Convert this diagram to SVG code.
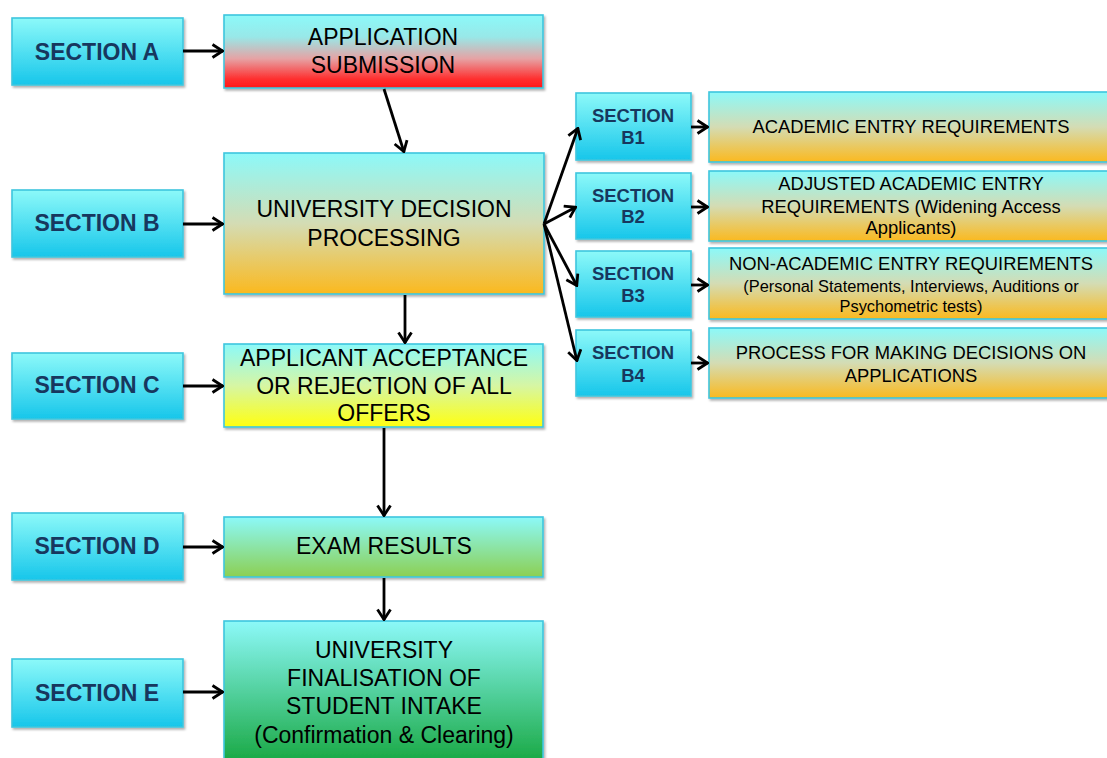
<svg xmlns="http://www.w3.org/2000/svg" width="1107" height="758" viewBox="0 0 1107 758">
<defs>
<style>
.box{stroke:#3ec6de;stroke-width:1.6;filter:url(#sh)}
.sec{font-family:"Liberation Sans",Arial,sans-serif;font-weight:bold;font-size:23px;fill:#17375e;text-anchor:middle}
.secb{font-family:"Liberation Sans",Arial,sans-serif;font-weight:bold;font-size:18.5px;fill:#17375e;text-anchor:middle}
.t{font-family:"Liberation Sans",Arial,sans-serif;font-size:23px;fill:#000;text-anchor:middle}
.ts{font-family:"Liberation Sans",Arial,sans-serif;font-size:18.4px;fill:#000;text-anchor:middle}
.tx{font-family:"Liberation Sans",Arial,sans-serif;font-size:16.4px;fill:#000;text-anchor:middle}
.c line{stroke:#000;stroke-width:2.8;marker-end:url(#ah)}
</style>
<filter id="sh" x="-5%" y="-5%" width="115%" height="120%">
<feDropShadow dx="1.5" dy="2" stdDeviation="1.2" flood-color="#000" flood-opacity="0.3"/>
</filter>
<marker id="ah" viewBox="0 0 13 16" refX="12" refY="8" markerWidth="13" markerHeight="16" markerUnits="userSpaceOnUse" orient="auto">
<path d="M1.5,1.5 L11.5,8 L1.5,14.5" fill="none" stroke="#000" stroke-width="2.8" stroke-linejoin="miter"/>
</marker>
<linearGradient id="gCy" x1="0" y1="0" x2="0" y2="1">
<stop offset="0" stop-color="#8cf9f9"/><stop offset="1" stop-color="#17c6ea"/>
</linearGradient>
<linearGradient id="gRed" x1="0" y1="0" x2="0" y2="1">
<stop offset="0" stop-color="#8cf9f9"/><stop offset="0.3" stop-color="#98e8e8"/><stop offset="0.6" stop-color="#e6a2a4"/><stop offset="0.88" stop-color="#ff2e2e"/><stop offset="1" stop-color="#ff1818"/>
</linearGradient>
<linearGradient id="gOr" x1="0" y1="0" x2="0" y2="1">
<stop offset="0" stop-color="#8cf9f9"/><stop offset="0.5" stop-color="#d4dcb4"/><stop offset="1" stop-color="#fbb91e"/>
</linearGradient>
<linearGradient id="gYe" x1="0" y1="0" x2="0" y2="1">
<stop offset="0" stop-color="#8cf9f9"/><stop offset="0.5" stop-color="#d6f6a4"/><stop offset="1" stop-color="#ffff10"/>
</linearGradient>
<linearGradient id="gGl" x1="0" y1="0" x2="0" y2="1">
<stop offset="0" stop-color="#8cf9f9"/><stop offset="1" stop-color="#8ccf52"/>
</linearGradient>
<linearGradient id="gGd" x1="0" y1="0" x2="0" y2="1">
<stop offset="0" stop-color="#8cf9f9"/><stop offset="1" stop-color="#16a63e"/>
</linearGradient>
</defs>
<rect width="1107" height="758" fill="#fff"/>

<g id="secA"><rect class="box" x="12" y="18" width="171" height="67" fill="url(#gCy)"/><text class="sec" x="97" y="60">SECTION A</text></g>
<g id="secB"><rect class="box" x="12" y="190" width="171" height="67" fill="url(#gCy)"/><text class="sec" x="97" y="231">SECTION B</text></g>
<g id="secC"><rect class="box" x="12" y="353" width="171" height="66" fill="url(#gCy)"/><text class="sec" x="97" y="393">SECTION C</text></g>
<g id="secD"><rect class="box" x="12" y="513" width="171" height="67" fill="url(#gCy)"/><text class="sec" x="97" y="554">SECTION D</text></g>
<g id="secE"><rect class="box" x="12" y="659" width="171" height="68" fill="url(#gCy)"/><text class="sec" x="97" y="701">SECTION E</text></g>

<g id="appSub"><rect class="box" x="224" y="15" width="319" height="73" fill="url(#gRed)"/>
<text class="t" x="383" y="45">APPLICATION</text><text class="t" x="383" y="73">SUBMISSION</text></g>
<g id="uniDec"><rect class="box" x="224" y="153" width="320" height="141" fill="url(#gOr)"/>
<text class="t" x="384" y="217">UNIVERSITY  DECISION</text><text class="t" x="384" y="246">PROCESSING</text></g>
<g id="accept"><rect class="box" x="224" y="344" width="319" height="83" fill="url(#gYe)"/>
<text class="t" x="384" y="366">APPLICANT ACCEPTANCE</text><text class="t" x="384" y="394">OR REJECTION OF ALL</text><text class="t" x="384" y="421">OFFERS</text></g>
<g id="exam"><rect class="box" x="224" y="517" width="319" height="60" fill="url(#gGl)"/>
<text class="t" x="384" y="554">EXAM  RESULTS</text></g>
<g id="final"><rect class="box" x="224" y="621" width="319" height="145" fill="url(#gGd)"/>
<text class="t" x="384" y="658">UNIVERSITY</text><text class="t" x="384" y="686">FINALISATION  OF</text><text class="t" x="384" y="714">STUDENT INTAKE</text><text class="t" x="384" y="743">(Confirmation &amp; Clearing)</text></g>

<g id="secB1"><rect class="box" x="576" y="93" width="115" height="67" fill="url(#gCy)"/><text class="secb" x="633" y="122">SECTION</text><text class="secb" x="633" y="144">B1</text></g>
<g id="secB2"><rect class="box" x="576" y="173" width="115" height="66" fill="url(#gCy)"/><text class="secb" x="633" y="202">SECTION</text><text class="secb" x="633" y="223">B2</text></g>
<g id="secB3"><rect class="box" x="576" y="251" width="115" height="66" fill="url(#gCy)"/><text class="secb" x="633" y="280">SECTION</text><text class="secb" x="633" y="302">B3</text></g>
<g id="secB4"><rect class="box" x="576" y="330" width="115" height="66" fill="url(#gCy)"/><text class="secb" x="633" y="359">SECTION</text><text class="secb" x="633" y="382">B4</text></g>

<g id="reqB1"><rect class="box" x="709" y="92" width="402" height="70" fill="url(#gOr)"/><text class="ts" x="911" y="133">ACADEMIC ENTRY REQUIREMENTS</text></g>
<g id="reqB2"><rect class="box" x="709" y="171" width="402" height="70" fill="url(#gOr)"/>
<text class="ts" x="911" y="190">ADJUSTED ACADEMIC ENTRY</text><text class="ts" x="911" y="213">REQUIREMENTS (Widening  Access</text><text class="ts" x="911" y="234">Applicants)</text></g>
<g id="reqB3"><rect class="box" x="709" y="248" width="402" height="71" fill="url(#gOr)"/>
<text class="ts" x="911" y="270">NON-ACADEMIC ENTRY  REQUIREMENTS</text><text class="tx" x="911" y="292">(Personal Statements, Interviews, Auditions or</text><text class="tx" x="911" y="312">Psychometric tests)</text></g>
<g id="reqB4"><rect class="box" x="709" y="328" width="402" height="70" fill="url(#gOr)"/>
<text class="ts" x="911" y="359">PROCESS FOR MAKING DECISIONS ON</text><text class="ts" x="911" y="382">APPLICATIONS</text></g>

<g id="connectors" class="c">
<line x1="183" y1="51" x2="223" y2="51"/>
<line x1="183" y1="224" x2="223" y2="224"/>
<line x1="183" y1="386" x2="223" y2="386"/>
<line x1="183" y1="547" x2="223" y2="547"/>
<line x1="183" y1="692" x2="223" y2="692"/>
<line x1="384" y1="89" x2="404" y2="152"/>
<line x1="405" y1="295" x2="405" y2="343"/>
<line x1="384" y1="428" x2="384" y2="516"/>
<line x1="384" y1="578" x2="384" y2="620"/>
<line x1="544" y1="224" x2="578" y2="128"/>
<line x1="544" y1="224" x2="576" y2="207"/>
<line x1="544" y1="224" x2="577" y2="286"/>
<line x1="544" y1="224" x2="577" y2="361"/>
<line x1="691" y1="127" x2="708" y2="127"/>
<line x1="691" y1="207" x2="708" y2="207"/>
<line x1="691" y1="285" x2="708" y2="285"/>
<line x1="691" y1="363" x2="708" y2="363"/>
</g>
</svg>
